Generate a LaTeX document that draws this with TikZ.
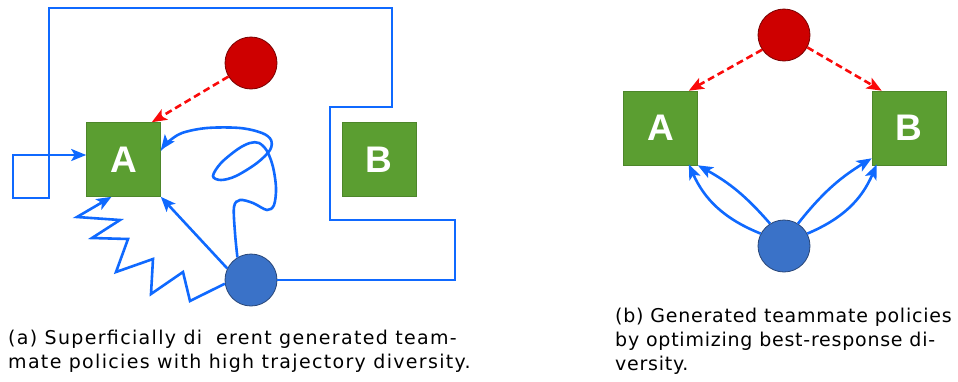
\documentclass[tikz,border=0pt]{standalone}
\usepackage{fontspec}
\setmainfont{DejaVu Sans}
\newfontfamily\labfont{Liberation Sans}
\newfontfamily\capfonta[LetterSpace=7]{DejaVu Sans}
\newfontfamily\capfontb[LetterSpace=4]{DejaVu Sans}
\usetikzlibrary{arrows.meta,calc}
\definecolor{boxgreen}{RGB}{91,158,49}
\definecolor{lineblue}{RGB}{15,105,255}
\definecolor{circblue}{RGB}{58,114,200}
\definecolor{circblueedge}{RGB}{40,70,120}
\definecolor{circred}{RGB}{206,0,0}
\definecolor{circrededge}{RGB}{120,0,0}
\definecolor{dashred}{RGB}{250,10,10}
\tikzset{
  box/.style={fill=boxgreen,draw=boxgreen!85!black,line width=0.6pt,minimum width=74pt,minimum height=74pt,inner sep=0pt,
    text=white,font=\labfont\bfseries\fontsize{37}{37}\selectfont},
  redc/.style={circle,fill=circred,draw=circrededge,line width=0.8pt,minimum size=52pt,inner sep=0pt},
  bluec/.style={circle,fill=circblue,draw=circblueedge,line width=0.8pt,minimum size=52pt,inner sep=0pt},
  tip/.style={-{Stealth[length=15pt,width=12pt,inset=3.5pt]}},
  bl/.style={draw=lineblue,line width=2.6pt,tip,line join=miter},
  rd/.style={draw=dashred,line width=2.6pt,dash pattern=on 7pt off 4pt,tip},
  captexta/.style={anchor=base west,inner sep=0pt,font=\capfonta\fontsize{19}{22}\selectfont},
  captextb/.style={anchor=base west,inner sep=0pt,font=\capfontb\fontsize{19}{22}\selectfont}
}
\begin{document}
\begin{tikzpicture}[x=1pt,y=-1pt]
\useasboundingbox (0,0) rectangle (958,381);
% ---- panel (a)
\node[box] (A1) at (123.5,159.5) {A};
\node[box] (B1) at (379,159.5) {B};
\node[redc] (R1) at (251,63) {};
\node[bluec] (U1) at (251,280) {};
\coordinate (q1) at (13,155);
\coordinate (q2) at (0,150);
\draw[bl] (U1.east) -- (455,280) -- (455,220) -- (330,220) -- (330,107) -- (392,107) -- (392,8) -- (49,8) -- (49,198) -- (13,198) -- (q1) -- (A1.west |- q1);
\draw[rd] (R1.211) -- ([xshift=-9pt]A1.north east);
\draw[bl] (U1.154) -- (A1.south east);
\draw[bl] (U1.188) -- (190,301) -- (183,272) -- (151,294) -- (153,259) -- (116,272) -- (128,239) -- (92,238) -- (120,220) -- (77,217) -- ([xshift=-12pt]A1.south);
\draw[bl] plot[smooth,tension=0.55] coordinates {(U1.121) (235,233) (234,207) (240,200) (253,203) (267,210) (274,205) (276,188) (273,167) (267,151) (259,143) (250,143) (238,149) (221,163) (213,176) (221,180) (236,176) (257,163) (270,150) (271,140) (262,133) (240,128) (207,128) (182,133) (168,142) (A1.east |- q2)};
% ---- panel (b)
\node[box] (A2) at (660.5,128) {A};
\node[box] (B2) at (909,128) {B};
\node[redc] (R2) at (784,35) {};
\node[bluec] (U2) at (784,246) {};
\draw[rd] (R2.214) -- ([xshift=-9pt]A2.north east);
\draw[rd] (R2.332) -- ([xshift=10pt]B2.north west);
\draw[bl] (U2.152) to[bend left=22] ([xshift=-9pt,yshift=1pt]A2.south east);
\draw[bl] (U2.122) to[bend right=10] (A2.south east);
\draw[bl] (U2.28) to[bend right=22] ([xshift=5pt,yshift=1pt]B2.south west);
\draw[bl] (U2.58) to[bend left=10] ([yshift=7pt]B2.south west);
% ---- captions
\node[captexta] (ca1) at (8,344) {(a) Superficially di\hspace{14pt}erent generated team-};
\node[captexta] (ca2) at (8,368) {mate policies with high trajectory diversity.};
\node[captextb] (cb1) at (615,322) {(b) Generated teammate policies};
\node[captextb] (cb2) at (615,346) {by optimizing best-response di-};
\node[captextb] (cb3) at (615,370) {versity.};
\end{tikzpicture}
\end{document}
